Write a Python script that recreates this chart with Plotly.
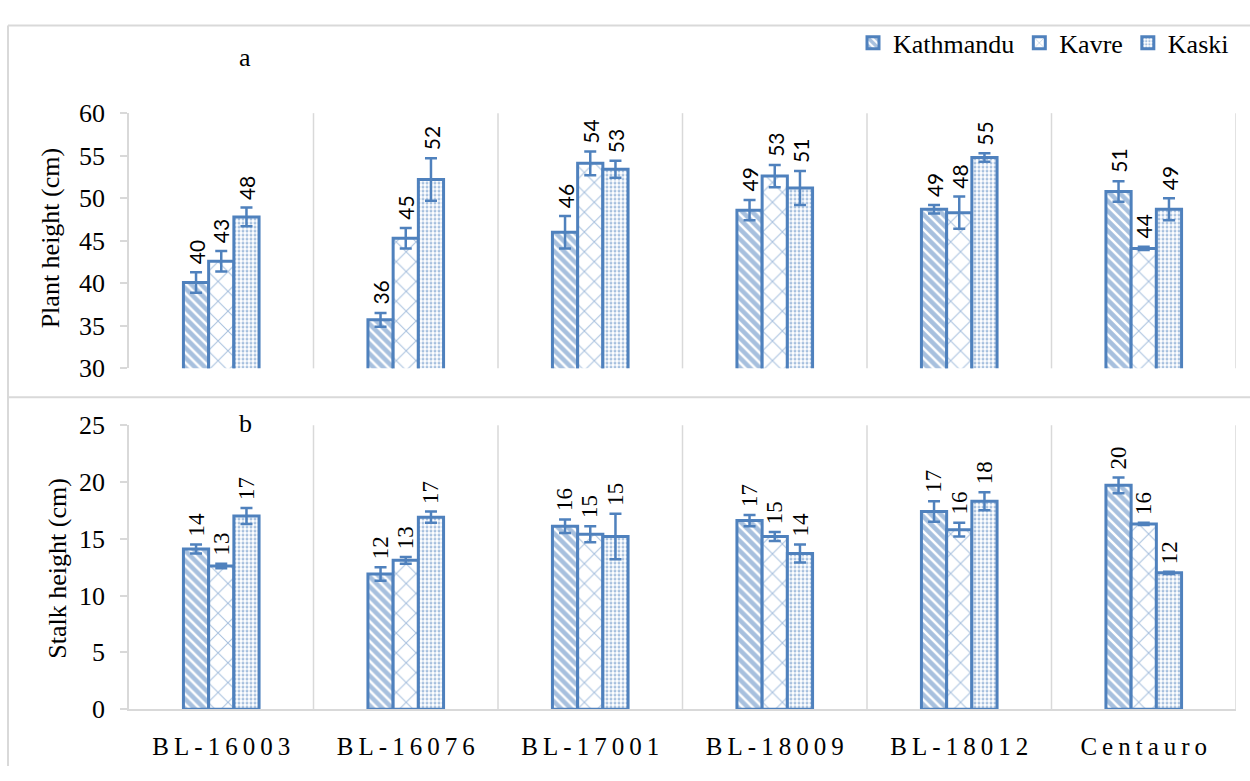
import plotly.graph_objects as go

# Genotypes on the shared category axis
genotypes = ["BL-16003", "BL-16076", "BL-17001", "BL-18009", "BL-18012", "Centauro"]
locations = ["Kathmandu", "Kavre", "Kaski"]

# Plant height (cm): means and standard errors per location
plant_kathmandu = [40.1, 35.7, 46.0, 48.6, 48.7, 50.8]
plant_kavre = [42.6, 45.3, 54.1, 52.6, 48.3, 44.1]
plant_kaski = [47.8, 52.2, 53.4, 51.2, 54.8, 48.7]
plant_err_kathmandu = [1.2, 0.8, 1.9, 1.2, 0.5, 1.2]
plant_err_kavre = [1.2, 1.2, 1.4, 1.3, 1.9, 0.2]
plant_err_kaski = [1.1, 2.5, 1.0, 2.0, 0.5, 1.3]

# Stalk height (cm): means and standard errors per location
stalk_kathmandu = [14.1, 11.9, 16.1, 16.6, 17.4, 19.7]
stalk_kavre = [12.6, 13.1, 15.4, 15.2, 15.8, 16.3]
stalk_kaski = [17.0, 16.9, 15.2, 13.7, 18.3, 12.0]
stalk_err_kathmandu = [0.4, 0.6, 0.6, 0.5, 0.9, 0.7]
stalk_err_kavre = [0.2, 0.3, 0.7, 0.4, 0.6, 0.1]
stalk_err_kaski = [0.7, 0.5, 2.0, 0.8, 0.8, 0.1]

plant = [plant_kathmandu, plant_kavre, plant_kaski]
plant_err = [plant_err_kathmandu, plant_err_kavre, plant_err_kaski]
stalk = [stalk_kathmandu, stalk_kavre, stalk_kaski]
stalk_err = [stalk_err_kathmandu, stalk_err_kavre, stalk_err_kaski]

BLUE = "#4F81BD"
GRID = "#D9D9D9"
SERIF = "Liberation Serif"
W, H = 1250, 781

patterns = [
    dict(shape="\\", fgcolor=BLUE, bgcolor="white", size=7, solidity=0.65),
    dict(shape="x", fgcolor=BLUE, bgcolor="white", size=14, solidity=0.14),
    dict(shape=".", fgcolor=BLUE, bgcolor="white", size=4, solidity=0.42),
]

BARGAP = 0.59
bar_w = (1 - BARGAP) / 3

fig = go.Figure()

panels = [
    ("x", "y", plant, plant_err, True),
    ("x2", "y2", stalk, stalk_err, False),
]
for xa, ya, means, errs, show_legend in panels:
    for j, loc in enumerate(locations):
        fig.add_trace(go.Bar(
            x=genotypes, y=means[j], name=loc, xaxis=xa, yaxis=ya,
            showlegend=show_legend, legendgroup=loc,
            marker=dict(color="white", line=dict(color=BLUE, width=3),
                        pattern=patterns[j]),
            error_y=dict(type="data", array=errs[j], color=BLUE,
                         thickness=2.5, width=6),
        ))

# Rotated value labels above each error bar
annotations = []
for xa, ya, means, errs, label_font in [
    ("x", "y", plant, plant_err, dict(family="Lato", size=21, color="black")),
    ("x2", "y2", stalk, stalk_err, dict(family=SERIF, size=23, color="black")),
]:
    for j in range(len(locations)):
        for i in range(len(genotypes)):
            v, e = means[j][i], errs[j][i]
            annotations.append(dict(
                x=i + (j - 1) * bar_w, y=v + e, xref=xa, yref=ya,
                text=f"{v:.0f}", textangle=-90, showarrow=False,
                xanchor="center", yanchor="bottom", yshift=6,
                font=label_font,
            ))

# Panel letters and axis titles
text_font = dict(family=SERIF, size=26, color="black")
for x_px, y_px, txt, angle in [
    (245, 45, "a", 0),
    (245, 425, "b", 0),
    (50, 233, "Plant height (cm)", -90),
    (58, 575, "Stalk height (cm)", -90),
]:
    annotations.append(dict(
        x=x_px / W, y=1 - y_px / H, xref="paper", yref="paper", text=txt,
        textangle=angle, showarrow=False, xanchor="center", yanchor="middle",
        font=text_font,
    ))

# Category separators and the outer frame
shapes = []
for xa, ya in [("x", "y"), ("x2", "y2")]:
    for k in range(1, len(genotypes) + 1):
        shapes.append(dict(type="line", xref=xa, yref=f"{ya} domain",
                           x0=k - 0.5, x1=k - 0.5, y0=0, y1=1,
                           line=dict(color=GRID, width=1.5), layer="below"))
frame = dict(color=GRID, width=2)
shapes += [
    dict(type="line", xref="paper", yref="paper", x0=8 / W, x1=1,
         y0=1 - 12 / H, y1=1 - 12 / H, line=frame),
    dict(type="line", xref="paper", yref="paper", x0=8 / W, x1=8 / W,
         y0=0, y1=1 - 12 / H, line=frame),
    dict(type="line", xref="paper", yref="paper", x0=8 / W, x1=1,
         y0=1 - 398 / H, y1=1 - 398 / H, line=frame),
]

spaced = ["\u2009".join(g) for g in genotypes]
x_dom = [129 / W, 1236 / W]
yaxis_common = dict(
    showline=True, linecolor=GRID, linewidth=1.5, ticks="outside", ticklen=7,
    tickcolor=GRID, tickwidth=1.5, showgrid=False, zeroline=False, dtick=5,
    tickfont=dict(family=SERIF, size=26, color="black"), ticklabelstandoff=10,
)

fig.update_layout(
    width=W, height=H, margin=dict(l=0, r=0, t=0, b=0),
    paper_bgcolor="white", plot_bgcolor="white",
    barmode="group", bargap=BARGAP, bargroupgap=0,
    xaxis=dict(domain=x_dom, anchor="y", type="category", range=[-0.5, 5.5],
               showticklabels=False, showline=False, showgrid=False,
               zeroline=False, ticks=""),
    yaxis=dict(domain=[1 - 368 / H, 1 - 103 / H], anchor="x", range=[30, 60],
               **yaxis_common),
    xaxis2=dict(domain=x_dom, anchor="y2", type="category", range=[-0.5, 5.5],
                tickvals=genotypes, ticktext=spaced, showline=True,
                linecolor=GRID, linewidth=1.5, showgrid=False, zeroline=False,
                ticks="", ticklabelstandoff=14,
                tickfont=dict(family=SERIF, size=25, color="black")),
    yaxis2=dict(domain=[1 - 722 / H, 1 - 427 / H], anchor="x2", range=[0, 25],
                **yaxis_common),
    legend=dict(orientation="h", xanchor="right", x=1234 / W,
                yanchor="middle", y=1 - 30 / H, bgcolor="rgba(0,0,0,0)",
                font=dict(family=SERIF, size=26, color="black"),
                traceorder="normal"),
    annotations=annotations, shapes=shapes,
)

fig.write_html("out.html")
